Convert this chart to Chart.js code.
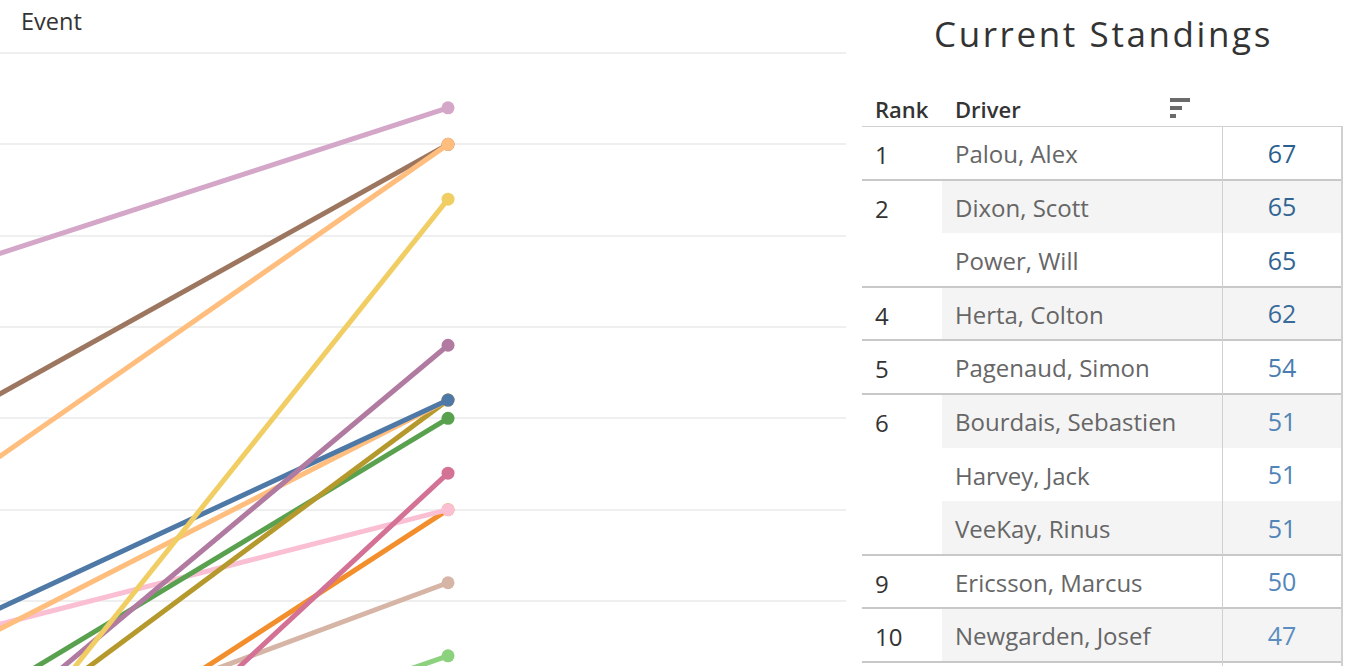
<!DOCTYPE html>
<html>
<head>
<meta charset="utf-8">
<script src="https://cdn.jsdelivr.net/npm/chart.js@4.4.0/dist/chart.umd.min.js"></script>
<style>
  body { margin: 0; width: 1346px; height: 666px; overflow: hidden; background: #fff;
         font-family: "Open Sans", "Noto Sans", sans-serif; position: relative; }
  #lines { position: absolute; left: 0; top: 0; }
  .txt { position: absolute; white-space: nowrap; }
  #evt { left: 21px; top: 10px; font-size: 23.5px; line-height: 23.5px; color: #333; }
  #title { left: 934px; top: 16px; font-size: 35px; line-height: 35px; color: #333; letter-spacing: 2.6px; }
  .hdr { top: 98px; font-size: 22px; line-height: 22px; color: #333; font-weight: 600; }
  .bar { position: absolute; left: 1170px; height: 4px; background: #6b6b6b; }
</style>
</head>
<body>
<div id="evt" class="txt">Event</div>
<canvas id="lines" width="846" height="666"></canvas>
<div id="title" class="txt">Current Standings</div>
<div class="txt hdr" style="left:875px">Rank</div>
<div class="txt hdr" style="left:955px">Driver</div>
<div class="bar" style="top:98px;width:20px"></div>
<div class="bar" style="top:106px;width:12px"></div>
<div class="bar" style="top:114px;width:6px"></div>
<div id="table"></div>
<script>
// points before and after the latest event, one entry per driver line
const prevPoints = [53, 35, 41, 8, 18, 31, 29, 19, 24, 7, 34, 17, 25, 22];
const currPoints = [67, 65, 65, 62, 54, 51, 51, 51, 50, 47, 45, 45, 41, 37];
const lineColors = ["#d4a6c8", "#ffbe7d", "#9d7660", "#f1ce63", "#b07aa1", "#4e79a7", "#ffbe7d",
                    "#b6992d", "#59a14f", "#d37295", "#fabfd2", "#f28e2b", "#d7b5a6", "#8cd17d"];
const eventX = [0, 1];
const yTicks = [40, 45, 50, 55, 60, 65, 70];

// standings table
const ranks = [1, 2, 2, 4, 5, 6, 6, 6, 9, 10];
const drivers = ["Palou, Alex", "Dixon, Scott", "Power, Will", "Herta, Colton", "Pagenaud, Simon",
                 "Bourdais, Sebastien", "Harvey, Jack", "VeeKay, Rinus", "Ericsson, Marcus", "Newgarden, Josef"];
const points = [67, 65, 65, 62, 54, 51, 51, 51, 50, 47];

const datasets = currPoints.map((v, i) => ({
  data: [{ x: eventX[0], y: prevPoints[i] }, { x: eventX[1], y: v }],
  borderColor: lineColors[i],
  backgroundColor: lineColors[i],
  borderWidth: 5,
  pointRadius: [0, 6.5],
  pointBorderWidth: 0,
  pointBackgroundColor: lineColors[i]
}));

new Chart(document.getElementById("lines"), {
  type: "line",
  data: { datasets },
  options: {
    responsive: false,
    animation: false,
    layout: { padding: 0, autoPadding: false },
    plugins: { legend: { display: false }, tooltip: { enabled: false } },
    scales: {
      x: { type: "linear", min: 0.4307, max: 1.5057, display: false },
      y: {
        min: 36.442, max: 72.901,
        ticks: { display: false },
        grid: { color: "#efefef", lineWidth: 2, drawTicks: false },
        border: { display: false },
        afterBuildTicks: (s) => { s.ticks = yTicks.map((v) => ({ value: v })); }
      }
    }
  }
});

// table
const tbl = document.getElementById("table");
const rowH = 53.6, top0 = 126;
function box(l, t, w, h, bg) {
  const d = document.createElement("div");
  d.style.cssText = `position:absolute;left:${l}px;top:${t}px;width:${w}px;height:${h}px;background:${bg}`;
  tbl.appendChild(d);
}
function text(s, l, t, size, color, extra) {
  const d = document.createElement("div");
  d.className = "txt";
  d.textContent = s;
  d.style.cssText += `left:${l}px;top:${t}px;font-size:${size}px;line-height:${size}px;color:${color};${extra || ""}`;
  tbl.appendChild(d);
}
function valColor(v) {
  const t = (v - 47) / 20;
  const a = [0x5b, 0x8d, 0xc0], b = [0x2d, 0x5f, 0x8e];
  return "rgb(" + a.map((c, k) => Math.round(c + (b[k] - c) * t)).join(",") + ")";
}
drivers.forEach((name, i) => {
  const t = top0 + i * rowH;
  if (i % 2 === 1) box(942, t, 400, rowH, "#f4f4f4");
  text(name, 955, t + 16, 24, "#666");
  text(String(points[i]), 1222, t + 14.5, 25, valColor(points[i]), "width:120px;text-align:center");
  if (i === 0 || ranks[i] !== ranks[i - 1]) text(String(ranks[i]), 875, t + 17, 24, "#333");
});
box(862, top0 - 0.5, 480, 1, "#d0d0d0");
drivers.forEach((name, i) => {
  if (i < drivers.length - 1 && ranks[i + 1] === ranks[i]) return;
  box(862, top0 + (i + 1) * rowH - 1, 480, 2, "#c8c8c8");
});
box(1222, top0, 1, 666 - top0, "#d0d0d0");
box(1340.5, top0, 2, 666 - top0, "#d0d0d0");
</script>
</body>
</html>
